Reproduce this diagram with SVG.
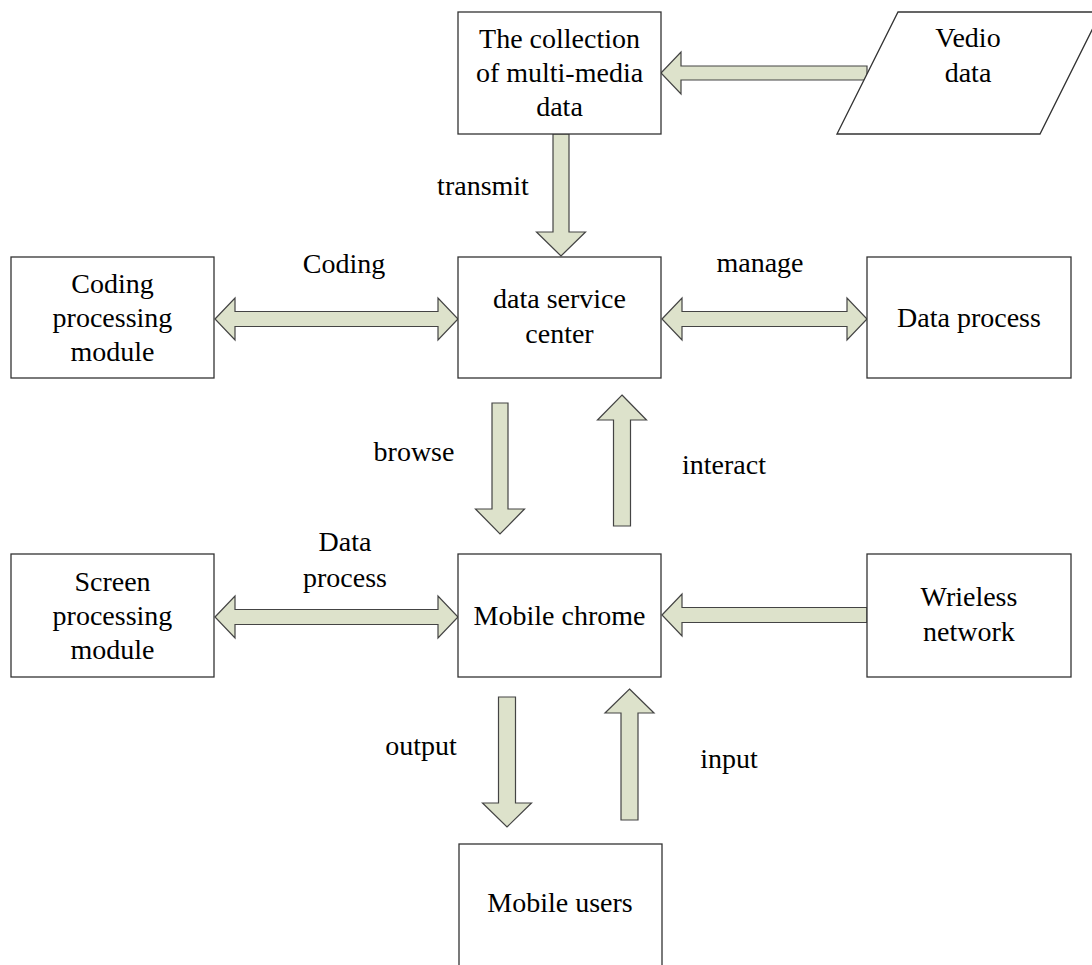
<svg xmlns="http://www.w3.org/2000/svg" width="1092" height="965" viewBox="0 0 1092 965">
<style>
.box{fill:#fff;stroke:#333;stroke-width:1.3}
.arr{fill:#dde2cb;stroke:#444;stroke-width:1.2;stroke-linejoin:miter}
text{font-family:"Liberation Serif","Times New Roman",serif;font-size:28px;fill:#000}
.c{text-anchor:middle}
</style>
<rect width="1092" height="965" fill="#fff"/>
<g id="connectors">
<polygon class="arr" points="661,73 681,52 681,66 867,66 867,80 681,80 681,94"/>
<polygon class="arr" points="553,134 569,134 569,232 585.5,232 561,256 536.5,232 553,232"/>
<polygon class="arr" points="215,319 235,298 235,311.5 438,311.5 438,298 458,319 438,340 438,326.5 235,326.5 235,340"/>
<polygon class="arr" points="662,319 682,298 682,311.5 847,311.5 847,298 867,319 847,340 847,326.5 682,326.5 682,340"/>
<polygon class="arr" points="492,403 508,403 508,509 524.5,509 500,534 475.5,509 492,509"/>
<polygon class="arr" points="622,395 646.5,420 630.5,420 630.5,526 613.5,526 613.5,420 597.5,420"/>
<polygon class="arr" points="215,617 235,596 235,609.5 438,609.5 438,596 458,617 438,638 438,624.5 235,624.5 235,638"/>
<polygon class="arr" points="662,615 682,594 682,607.5 867,607.5 867,622.5 682,622.5 682,636"/>
<polygon class="arr" points="498.5,697 515.5,697 515.5,803 531.5,803 507,827 482.5,803 498.5,803"/>
<polygon class="arr" points="629.5,689 654,713 638,713 638,820 621,820 621,713 605,713"/>
<text class="c" x="483" y="195">transmit</text>
<text class="c" x="344" y="273">Coding</text>
<text class="c" x="760" y="272">manage</text>
<text class="c" x="414" y="461">browse</text>
<text class="c" x="724" y="474">interact</text>
<text class="c" x="345" y="551">Data</text>
<text class="c" x="345" y="587">process</text>
<text class="c" x="421" y="755">output</text>
<text class="c" x="729" y="768">input</text>
</g>
<g id="collection">
<rect class="box" x="458" y="12" width="203" height="122"/>
<text class="c" x="559.5" y="48">The collection</text>
<text class="c" x="559.5" y="82">of multi-media</text>
<text class="c" x="559.5" y="116">data</text>
</g>
<g id="vedio">
<polygon class="box" points="837,134 898,12 1101,12 1040,134"/>
<text class="c" x="968" y="47">Vedio</text>
<text class="c" x="968" y="82">data</text>
</g>
<g id="coding">
<rect class="box" x="11" y="257" width="203" height="121"/>
<text class="c" x="112.5" y="293">Coding</text>
<text class="c" x="112.5" y="327">processing</text>
<text class="c" x="112.5" y="361">module</text>
</g>
<g id="dsc">
<rect class="box" x="458" y="257" width="203" height="121"/>
<text class="c" x="559.5" y="308">data service</text>
<text class="c" x="559.5" y="343">center</text>
</g>
<g id="dataprocess">
<rect class="box" x="867" y="257" width="204" height="121"/>
<text class="c" x="969" y="327">Data process</text>
</g>
<g id="screen">
<rect class="box" x="11" y="554" width="203" height="123"/>
<text class="c" x="112.5" y="591">Screen</text>
<text class="c" x="112.5" y="625">processing</text>
<text class="c" x="112.5" y="659">module</text>
</g>
<g id="chrome">
<rect class="box" x="458" y="554" width="203" height="123"/>
<text class="c" x="559.5" y="625">Mobile chrome</text>
</g>
<g id="wireless">
<rect class="box" x="867" y="554" width="204" height="123"/>
<text class="c" x="969" y="606">Wrieless</text>
<text class="c" x="969" y="641">network</text>
</g>
<g id="users">
<rect class="box" x="459" y="844" width="203" height="140"/>
<text class="c" x="560" y="912">Mobile users</text>
</g>
</svg>
